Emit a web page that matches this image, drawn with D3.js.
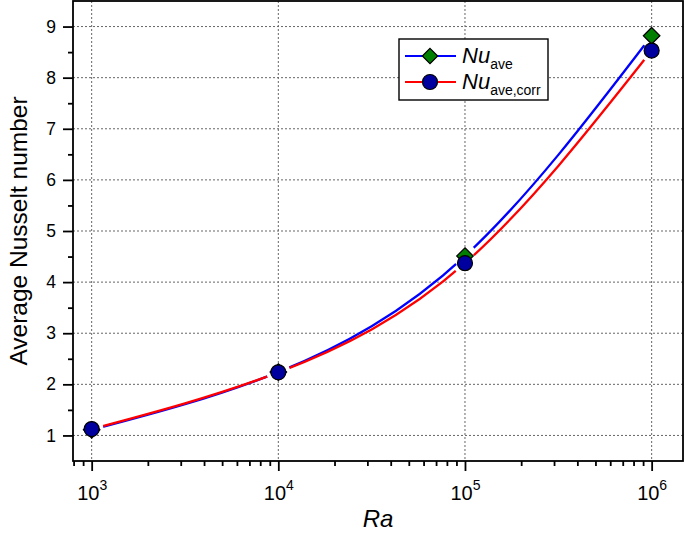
<!DOCTYPE html>
<html>
<head>
<meta charset="utf-8">
<script src="https://cdn.jsdelivr.net/npm/d3@7"></script>
<style>
  body { margin: 0; background: #fff; }
  svg { font-family: "Liberation Sans", Arial, sans-serif; }
</style>
</head>
<body>
<div class="svg-content"></div>
<script>
// values
const raValues = [1e3, 1e4, 1e5, 1e6];
const nuAve = [1.11, 2.24, 4.51, 8.82];
const nuAveCorr = [1.125, 2.235, 4.37, 8.53];
const xMajorTicks = [1e3, 1e4, 1e5, 1e6];
const xTickExponents = ["3", "4", "5", "6"];
const yMajorTicks = [1, 2, 3, 4, 5, 6, 7, 8, 9];
const yMinorTicks = [1.5, 2.5, 3.5, 4.5, 5.5, 6.5, 7.5, 8.5];

const svgWidth = 685;
const svgHeight = 535;
const plotLeft = 73, plotRight = 683, plotTop = 1, plotBottom = 461;

const svg = d3.select(".svg-content")
              .append("svg")
              .attr("width", svgWidth)
              .attr("height", svgHeight);

const xScale = d3.scaleLog()
                 .domain([Math.pow(10, 2.9), Math.pow(10, 6.168)])
                 .range([plotLeft, plotRight]);

const yScale = d3.scaleLinear()
                 .domain([0.5, 9.5])
                 .range([plotBottom, plotTop]);

// minor x ticks: 2..9 of each decade inside the domain
let xMinorTicks = [];
[100, 1000, 10000, 100000, 1000000].forEach(d => {
  for (let k = 2; k <= 9; k++) {
    const v = d * k;
    if (v >= xScale.domain()[0] && v <= xScale.domain()[1]) xMinorTicks.push(v);
  }
});

// grid
svg.append("g")
   .selectAll("line")
   .data(xMajorTicks)
   .enter()
   .append("line")
   .attr("x1", d => xScale(d)).attr("x2", d => xScale(d))
   .attr("y1", plotTop).attr("y2", plotBottom)
   .attr("stroke", "#666")
   .attr("stroke-width", 1)
   .attr("stroke-dasharray", "2,2");

svg.append("g")
   .selectAll("line")
   .data(yMajorTicks)
   .enter()
   .append("line")
   .attr("x1", plotLeft).attr("x2", plotRight)
   .attr("y1", d => yScale(d)).attr("y2", d => yScale(d))
   .attr("stroke", "#666")
   .attr("stroke-width", 1)
   .attr("stroke-dasharray", "2,2");

// axes
const xAxis = d3.axisBottom(xScale).tickValues(xMajorTicks).tickSize(10).tickSizeOuter(0).tickFormat("");
const xAxisMinor = d3.axisBottom(xScale).tickValues(xMinorTicks).tickSize(5).tickSizeOuter(0).tickFormat("");
const yAxis = d3.axisLeft(yScale).tickValues(yMajorTicks).tickSize(10).tickSizeOuter(0).tickFormat(d3.format("d"));
const yAxisMinor = d3.axisLeft(yScale).tickValues(yMinorTicks).tickSize(5).tickSizeOuter(0).tickFormat("");

const gx = svg.append("g").attr("transform", "translate(0," + plotBottom + ")").call(xAxis);
svg.append("g").attr("transform", "translate(0," + plotBottom + ")").call(xAxisMinor);
const gy = svg.append("g").attr("transform", "translate(" + plotLeft + ",0)").call(yAxis);
svg.append("g").attr("transform", "translate(" + plotLeft + ",0)").call(yAxisMinor);

svg.selectAll(".domain").remove();
svg.selectAll(".tick line").attr("stroke", "#000").attr("stroke-width", 1.8);

gy.selectAll("text")
  .attr("font-size", "17.5px")
  .attr("fill", "#000")
  .attr("x", -17)
  .attr("font-family", "Liberation Sans, Arial, sans-serif");

// x labels as 10 with superscript
gx.selectAll(".tick")
  .append("text")
  .attr("y", 39)
  .attr("fill", "#000")
  .attr("text-anchor", "middle")
  .attr("font-family", "Liberation Sans, Arial, sans-serif")
  .each(function(d, i) {
    const t = d3.select(this);
    t.append("tspan").attr("font-size", "20px").text("10");
    t.append("tspan").attr("font-size", "14px").attr("dy", -10).text(xTickExponents[i]);
  });

// frame
svg.append("rect")
   .attr("x", plotLeft).attr("y", plotTop)
   .attr("width", plotRight - plotLeft).attr("height", plotBottom - plotTop)
   .attr("fill", "none")
   .attr("stroke", "#000")
   .attr("stroke-width", 1.8);

// axis titles
svg.append("text")
   .attr("transform", "translate(27," + ((plotTop + plotBottom) / 2) + ") rotate(-90)")
   .attr("text-anchor", "middle")
   .attr("font-size", "24.5px")
   .attr("fill", "#000")
   .text("Average Nusselt number");

svg.append("text")
   .attr("x", (plotLeft + plotRight) / 2)
   .attr("y", 527)
   .attr("text-anchor", "middle")
   .attr("font-size", "24px")
   .attr("font-style", "italic")
   .attr("fill", "#000")
   .text("Ra");

// curves with gaps round the markers
const gapR = 12;
const defs = svg.append("defs");
function addMask(id, ys) {
  const m = defs.append("mask").attr("id", id).attr("maskUnits", "userSpaceOnUse")
                .attr("x", 0).attr("y", 0).attr("width", svgWidth).attr("height", svgHeight);
  m.append("rect").attr("width", svgWidth).attr("height", svgHeight).attr("fill", "#fff");
  m.selectAll("circle").data(raValues).enter().append("circle")
   .attr("cx", d => xScale(d)).attr("cy", (d, i) => yScale(ys[i])).attr("r", gapR).attr("fill", "#000");
}
addMask("gapAve", nuAve);
addMask("gapCorr", nuAveCorr);

const line = d3.line()
               .x(d => xScale(d[0]))
               .y(d => yScale(d[1]))
               .curve(d3.curveNatural);

svg.append("path")
   .attr("d", line(raValues.map((r, i) => [r, nuAve[i]])))
   .attr("fill", "none")
   .attr("stroke", "#0000ff")
   .attr("stroke-width", 2.3)
   .attr("mask", "url(#gapAve)");

svg.append("path")
   .attr("d", line(raValues.map((r, i) => [r, nuAveCorr[i]])))
   .attr("fill", "none")
   .attr("stroke", "#ff0000")
   .attr("stroke-width", 2.3)
   .attr("mask", "url(#gapCorr)");

const diamond = d3.symbol().type(d3.symbolDiamond2).size(175);

svg.selectAll(".diamond")
   .data(raValues)
   .enter()
   .append("path")
   .attr("class", "diamond")
   .attr("d", diamond)
   .attr("transform", (d, i) => "translate(" + xScale(d) + "," + yScale(nuAve[i]) + ")")
   .attr("fill", "#007f00")
   .attr("stroke", "#000")
   .attr("stroke-width", 1.2);

svg.selectAll(".dot")
   .data(raValues)
   .enter()
   .append("circle")
   .attr("class", "dot")
   .attr("cx", d => xScale(d))
   .attr("cy", (d, i) => yScale(nuAveCorr[i]))
   .attr("r", 7.5)
   .attr("fill", "#00009f")
   .attr("stroke", "#000")
   .attr("stroke-width", 1.2);

// legend
const legend = svg.append("g");
legend.append("rect")
      .attr("x", 399).attr("y", 39)
      .attr("width", 149).attr("height", 61)
      .attr("fill", "#fff")
      .attr("stroke", "#000")
      .attr("stroke-width", 1.4);

const legendItems = [
  { color: "#0000ff", sub: "ave", y: 56, marker: "diamond" },
  { color: "#ff0000", sub: "ave,corr", y: 82, marker: "circle" }
];

legendItems.forEach(item => {
  legend.append("line")
        .attr("x1", 405).attr("x2", 456)
        .attr("y1", item.y).attr("y2", item.y)
        .attr("stroke", item.color)
        .attr("stroke-width", 2);
  if (item.marker === "diamond") {
    legend.append("path")
          .attr("d", d3.symbol().type(d3.symbolDiamond2).size(150))
          .attr("transform", "translate(430," + item.y + ")")
          .attr("fill", "#007f00")
          .attr("stroke", "#000")
          .attr("stroke-width", 1.2);
  } else {
    legend.append("circle")
          .attr("cx", 430).attr("cy", item.y).attr("r", 7.5)
          .attr("fill", "#00009f")
          .attr("stroke", "#000")
          .attr("stroke-width", 1.2);
  }
  const t = legend.append("text")
                  .attr("x", 462)
                  .attr("y", item.y + 7)
                  .attr("fill", "#000");
  t.append("tspan").attr("font-size", "22px").attr("font-style", "italic").text("Nu");
  t.append("tspan").attr("font-size", "14px").attr("dy", 6).text(item.sub);
});
</script>
</body>
</html>
